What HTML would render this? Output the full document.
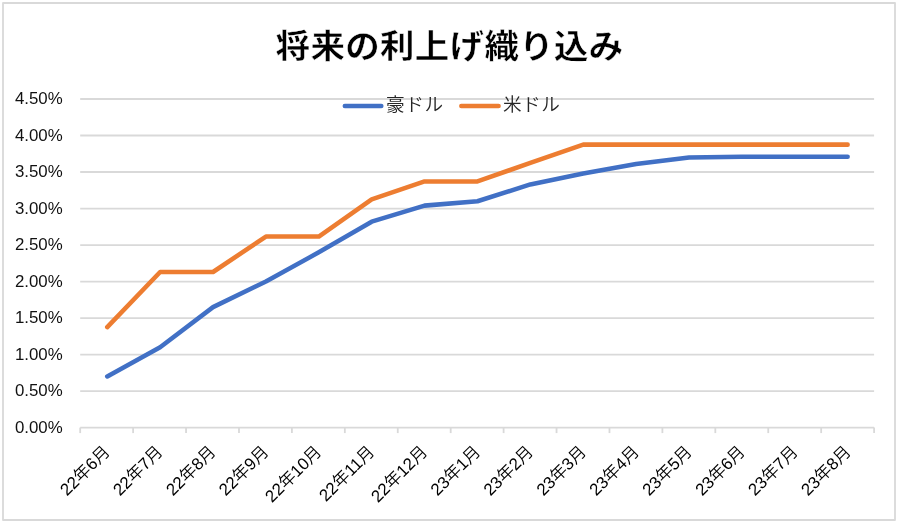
<!DOCTYPE html>
<html lang="ja">
<head>
<meta charset="utf-8">
<title>将来の利上げ織り込み</title>
<style>
html,body{margin:0;padding:0;background:#fff;}
body{width:898px;height:523px;overflow:hidden;}
svg{display:block;}
text{font-family:"Liberation Sans","Noto Sans CJK JP",sans-serif;fill:#000;}
.title{font-family:"Liberation Sans","Noto Sans CJK JP",sans-serif;font-weight:bold;font-size:32.9px;letter-spacing:0.35px;stroke:#fff;stroke-width:0.4px;}
.ylab{font-size:16.85px;text-anchor:end;fill:#111;}
.xlab{font-size:16.9px;text-anchor:end;fill:#000;font-weight:350;}
.leg{font-size:18.6px;fill:#262626;font-weight:350;letter-spacing:0.6px;}
</style>
</head>
<body>
<svg width="898" height="523" viewBox="0 0 898 523">
<rect x="0" y="0" width="898" height="523" fill="#ffffff"/>
<rect x="3" y="3" width="892" height="517" fill="none" stroke="#d9d9d9" stroke-width="1.8" stroke-linejoin="round"/>
<line x1="80.2" y1="427.60" x2="874.1" y2="427.60" stroke="#d9d9d9" stroke-width="1.8"/>
<line x1="80.2" y1="391.09" x2="874.1" y2="391.09" stroke="#d9d9d9" stroke-width="1.8"/>
<line x1="80.2" y1="354.58" x2="874.1" y2="354.58" stroke="#d9d9d9" stroke-width="1.8"/>
<line x1="80.2" y1="318.07" x2="874.1" y2="318.07" stroke="#d9d9d9" stroke-width="1.8"/>
<line x1="80.2" y1="281.56" x2="874.1" y2="281.56" stroke="#d9d9d9" stroke-width="1.8"/>
<line x1="80.2" y1="245.04" x2="874.1" y2="245.04" stroke="#d9d9d9" stroke-width="1.8"/>
<line x1="80.2" y1="208.53" x2="874.1" y2="208.53" stroke="#d9d9d9" stroke-width="1.8"/>
<line x1="80.2" y1="172.02" x2="874.1" y2="172.02" stroke="#d9d9d9" stroke-width="1.8"/>
<line x1="80.2" y1="135.51" x2="874.1" y2="135.51" stroke="#d9d9d9" stroke-width="1.8"/>
<line x1="80.2" y1="99.00" x2="874.1" y2="99.00" stroke="#d9d9d9" stroke-width="1.8"/>
<line x1="80.20" y1="427.60" x2="80.20" y2="433.10" stroke="#d9d9d9" stroke-width="1.8"/>
<line x1="133.13" y1="427.60" x2="133.13" y2="433.10" stroke="#d9d9d9" stroke-width="1.8"/>
<line x1="186.05" y1="427.60" x2="186.05" y2="433.10" stroke="#d9d9d9" stroke-width="1.8"/>
<line x1="238.98" y1="427.60" x2="238.98" y2="433.10" stroke="#d9d9d9" stroke-width="1.8"/>
<line x1="291.91" y1="427.60" x2="291.91" y2="433.10" stroke="#d9d9d9" stroke-width="1.8"/>
<line x1="344.83" y1="427.60" x2="344.83" y2="433.10" stroke="#d9d9d9" stroke-width="1.8"/>
<line x1="397.76" y1="427.60" x2="397.76" y2="433.10" stroke="#d9d9d9" stroke-width="1.8"/>
<line x1="450.69" y1="427.60" x2="450.69" y2="433.10" stroke="#d9d9d9" stroke-width="1.8"/>
<line x1="503.61" y1="427.60" x2="503.61" y2="433.10" stroke="#d9d9d9" stroke-width="1.8"/>
<line x1="556.54" y1="427.60" x2="556.54" y2="433.10" stroke="#d9d9d9" stroke-width="1.8"/>
<line x1="609.47" y1="427.60" x2="609.47" y2="433.10" stroke="#d9d9d9" stroke-width="1.8"/>
<line x1="662.39" y1="427.60" x2="662.39" y2="433.10" stroke="#d9d9d9" stroke-width="1.8"/>
<line x1="715.32" y1="427.60" x2="715.32" y2="433.10" stroke="#d9d9d9" stroke-width="1.8"/>
<line x1="768.25" y1="427.60" x2="768.25" y2="433.10" stroke="#d9d9d9" stroke-width="1.8"/>
<line x1="821.17" y1="427.60" x2="821.17" y2="433.10" stroke="#d9d9d9" stroke-width="1.8"/>
<line x1="874.10" y1="427.60" x2="874.10" y2="433.10" stroke="#d9d9d9" stroke-width="1.8"/>
<text class="ylab" x="62.7" y="432.80">0.00%</text>
<text class="ylab" x="62.7" y="396.29">0.50%</text>
<text class="ylab" x="62.7" y="359.78">1.00%</text>
<text class="ylab" x="62.7" y="323.27">1.50%</text>
<text class="ylab" x="62.7" y="286.76">2.00%</text>
<text class="ylab" x="62.7" y="250.24">2.50%</text>
<text class="ylab" x="62.7" y="213.73">3.00%</text>
<text class="ylab" x="62.7" y="177.22">3.50%</text>
<text class="ylab" x="62.7" y="140.71">4.00%</text>
<text class="ylab" x="62.7" y="104.20">4.50%</text>
<text class="xlab" transform="translate(110.86,452.70) rotate(-45)">22年6月</text>
<text class="xlab" transform="translate(163.79,452.70) rotate(-45)">22年7月</text>
<text class="xlab" transform="translate(216.72,452.70) rotate(-45)">22年8月</text>
<text class="xlab" transform="translate(269.64,452.70) rotate(-45)">22年9月</text>
<text class="xlab" transform="translate(322.57,452.70) rotate(-45)">22年10月</text>
<text class="xlab" transform="translate(375.50,452.70) rotate(-45)">22年11月</text>
<text class="xlab" transform="translate(428.42,452.70) rotate(-45)">22年12月</text>
<text class="xlab" transform="translate(481.35,452.70) rotate(-45)">23年1月</text>
<text class="xlab" transform="translate(534.28,452.70) rotate(-45)">23年2月</text>
<text class="xlab" transform="translate(587.20,452.70) rotate(-45)">23年3月</text>
<text class="xlab" transform="translate(640.13,452.70) rotate(-45)">23年4月</text>
<text class="xlab" transform="translate(693.06,452.70) rotate(-45)">23年5月</text>
<text class="xlab" transform="translate(745.98,452.70) rotate(-45)">23年6月</text>
<text class="xlab" transform="translate(798.91,452.70) rotate(-45)">23年7月</text>
<text class="xlab" transform="translate(851.84,452.70) rotate(-45)">23年8月</text>
<line x1="344.8" y1="106.0" x2="381.3" y2="106.0" stroke="#4170c5" stroke-width="4.5" stroke-linecap="round"/>
<text class="leg" x="386" y="110.5">豪ドル</text>
<line x1="461.3" y1="106.0" x2="498.6" y2="106.0" stroke="#ed7d31" stroke-width="4.5" stroke-linecap="round"/>
<text class="leg" x="502.9" y="110.5">米ドル</text>
<polyline points="107.26,376.48 160.15,347.28 213.03,307.11 265.91,281.56 318.80,252.35 371.68,221.68 424.57,205.61 477.45,201.23 530.33,184.44 583.22,173.48 636.10,163.99 688.99,157.42 741.87,156.69 794.75,156.69 847.64,156.69" fill="none" stroke="#4170c5" stroke-width="4.55" stroke-linecap="round" stroke-linejoin="round"/>
<polyline points="107.26,327.19 160.15,271.99 213.03,271.99 265.91,236.57 318.80,236.57 371.68,199.41 424.57,181.44 477.45,181.44 530.33,162.89 583.22,144.64 636.10,144.64 688.99,144.64 741.87,144.64 794.75,144.64 847.64,144.64" fill="none" stroke="#ed7d31" stroke-width="4.55" stroke-linecap="round" stroke-linejoin="round"/>
<text class="title" transform="translate(449.6,57.6) scale(1.047,1)" x="0" y="0" text-anchor="middle">将来の利上げ織り込み</text>
</svg>
</body>
</html>
